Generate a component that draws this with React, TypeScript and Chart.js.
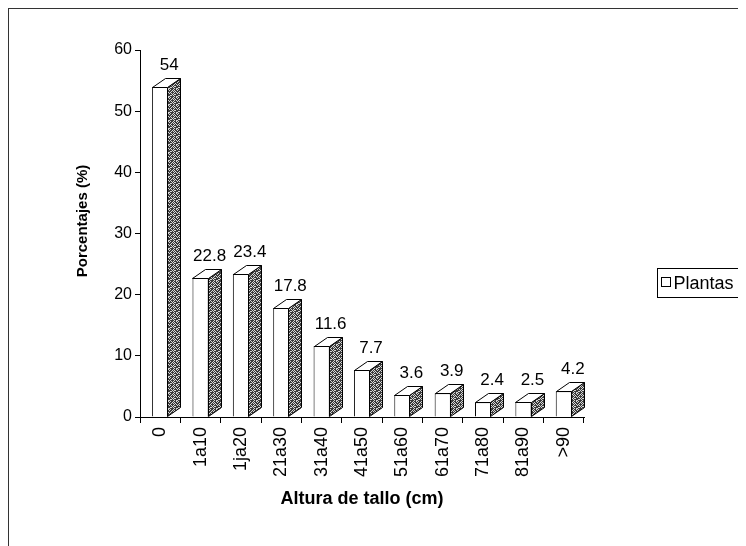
import { useEffect, useRef } from "react";
import { Chart, registerables } from "chart.js";

Chart.register(...registerables);

// Plant height classes and share of plants in each class
const categories = ["0", "1a10", "1ja20", "21a30", "31a40", "41a50", "51a60", "61a70", "71a80", "81a90", ">90"];
const plantas = [54, 22.8, 23.4, 17.8, 11.6, 7.7, 3.6, 3.9, 2.4, 2.5, 4.2];
const yTickValues = [0, 10, 20, 30, 40, 50, 60];
const seriesName = "Plantas";
const xTitle = "Altura de tallo (cm)";
const yTitle = "Porcentajes (%)";

const FONT = "'Liberation Sans', Arial, Helvetica, sans-serif";
const DEPTH_X = 13;
const DEPTH_Y = -9;

// stipple tile used for the shaded side faces (1 = dark, 0 = light)
const SIDE_TILE = [
  "10110110",
  "01101011",
  "11010101",
  "10111010",
  "01010111",
  "11101001",
  "10010111",
  "01111010",
];

function makeSidePattern(ctx: CanvasRenderingContext2D): CanvasPattern | string {
  const tile = document.createElement("canvas");
  tile.width = SIDE_TILE[0].length;
  tile.height = SIDE_TILE.length;
  const t = tile.getContext("2d");
  if (!t) return "#777";
  SIDE_TILE.forEach((row, yy) => {
    for (let xx = 0; xx < row.length; xx++) {
      t.fillStyle = row[xx] === "1" ? "#3a3a3a" : "#d6d6d6";
      t.fillRect(xx, yy, 1, 1);
    }
  });
  return ctx.createPattern(tile, "repeat") || "#777";
}

const bars3d = {
  id: "bars3d",
  afterDatasetsDraw(chart: any) {
    const ctx: CanvasRenderingContext2D = chart.ctx;
    const pattern = makeSidePattern(ctx);
    const meta = chart.getDatasetMeta(0);
    ctx.save();
    ctx.lineWidth = 1;
    ctx.strokeStyle = "#000";
    meta.data.forEach((bar: any, i: number) => {
      const { x, y, base, width } = bar.getProps(["x", "y", "base", "width"], true);
      const l = Math.round(x - width / 2) + 0.5;
      const r = Math.round(x + width / 2) - 0.5;
      const t = Math.round(y) + 0.5;
      const b = Math.round(base) - 0.5;
      // right side face
      ctx.beginPath();
      ctx.moveTo(r, t);
      ctx.lineTo(r + DEPTH_X, t + DEPTH_Y);
      ctx.lineTo(r + DEPTH_X, b + DEPTH_Y);
      ctx.lineTo(r, b);
      ctx.closePath();
      ctx.fillStyle = pattern;
      ctx.fill();
      ctx.stroke();
      // top face
      ctx.beginPath();
      ctx.moveTo(l, t);
      ctx.lineTo(l + DEPTH_X, t + DEPTH_Y);
      ctx.lineTo(r + DEPTH_X, t + DEPTH_Y);
      ctx.lineTo(r, t);
      ctx.closePath();
      ctx.fillStyle = "#fff";
      ctx.fill();
      ctx.stroke();
      // value label
      ctx.fillStyle = "#000";
      ctx.font = `17px ${FONT}`;
      ctx.textAlign = "center";
      ctx.textBaseline = "alphabetic";
      ctx.fillText(String(plantas[i]), x + 9, t + DEPTH_Y - 9);
    });
    ctx.restore();
  },
  afterDraw(chart: any) {
    const ctx: CanvasRenderingContext2D = chart.ctx;
    ctx.save();
    // vertical axis title
    ctx.fillStyle = "#000";
    ctx.font = `bold 15px ${FONT}`;
    ctx.textAlign = "center";
    ctx.textBaseline = "middle";
    ctx.translate(73.5, 212);
    ctx.rotate(-Math.PI / 2);
    ctx.fillText(yTitle, 0, 0);
    ctx.restore();

    // legend
    ctx.save();
    ctx.font = `18px ${FONT}`;
    const textW = ctx.measureText(seriesName).width;
    const boxL = 648.5;
    const boxT = 259.5;
    const sq = 9;
    const textX = boxL + 16;
    const boxW = textX - boxL + textW + 6;
    const boxH = 29;
    ctx.lineWidth = 1;
    ctx.strokeStyle = "#000";
    ctx.fillStyle = "#fff";
    ctx.fillRect(boxL, boxT, boxW, boxH);
    ctx.strokeRect(boxL, boxT, boxW, boxH);
    ctx.strokeRect(boxL + 4, boxT + 9, sq, sq);
    ctx.fillStyle = "#000";
    ctx.textAlign = "left";
    ctx.textBaseline = "middle";
    ctx.fillText(seriesName, textX, boxT + boxH / 2 + 1);
    ctx.restore();
  },
};

export default function App() {
  const canvasRef = useRef<HTMLCanvasElement | null>(null);

  useEffect(() => {
    const canvas = canvasRef.current;
    if (!canvas) return;
    const chart = new Chart(canvas, {
      type: "bar",
      data: {
        labels: categories,
        datasets: [
          {
            label: seriesName,
            data: plantas,
            backgroundColor: "#fff",
            borderColor: "#000",
            borderWidth: 1,
            barPercentage: 0.8,
            categoryPercentage: 0.5,
          },
        ],
      },
      options: {
        responsive: false,
        animation: false,
        layout: { padding: { left: 60, right: 162, top: 41, bottom: 32 } },
        plugins: {
          legend: { display: false },
          tooltip: { enabled: false },
        },
        scales: {
          x: {
            afterFit: (scale: any) => {
              scale.height = 97;
            },
            grid: {
              display: true,
              drawOnChartArea: false,
              drawTicks: true,
              tickLength: 6,
              color: "#000",
              offset: true,
            },
            border: { display: true, color: "#000", width: 1 },
            ticks: {
              color: "#000",
              font: { family: FONT, size: 18 },
              minRotation: 90,
              maxRotation: 90,
              padding: 4,
              autoSkip: false,
            },
            title: {
              display: true,
              text: xTitle,
              color: "#000",
              font: { family: FONT, size: 18, weight: "bold" },
            },
          },
          y: {
            min: 0,
            max: 60,
            afterFit: (scale: any) => {
              scale.width = 71;
            },
            afterBuildTicks: (scale: any) => {
              scale.ticks = yTickValues.map((v) => ({ value: v }));
            },
            grid: {
              display: true,
              drawOnChartArea: false,
              drawTicks: true,
              tickLength: 5,
              color: "#000",
            },
            border: { display: true, color: "#000", width: 1 },
            ticks: {
              color: "#000",
              font: { family: FONT, size: 16 },
              padding: 3,
            },
            title: { display: false },
          },
        },
      },
      plugins: [bars3d],
    });
    return () => chart.destroy();
  }, []);

  return (
    <div
      style={{
        width: 738,
        height: 538,
        boxSizing: "border-box",
        borderLeft: "1px solid #333",
        borderTop: "1px solid #333",
        overflow: "hidden",
        background: "#fff",
      }}
    >
      <canvas ref={canvasRef} width={737} height={537} style={{ display: "block" }} />
    </div>
  );
}
